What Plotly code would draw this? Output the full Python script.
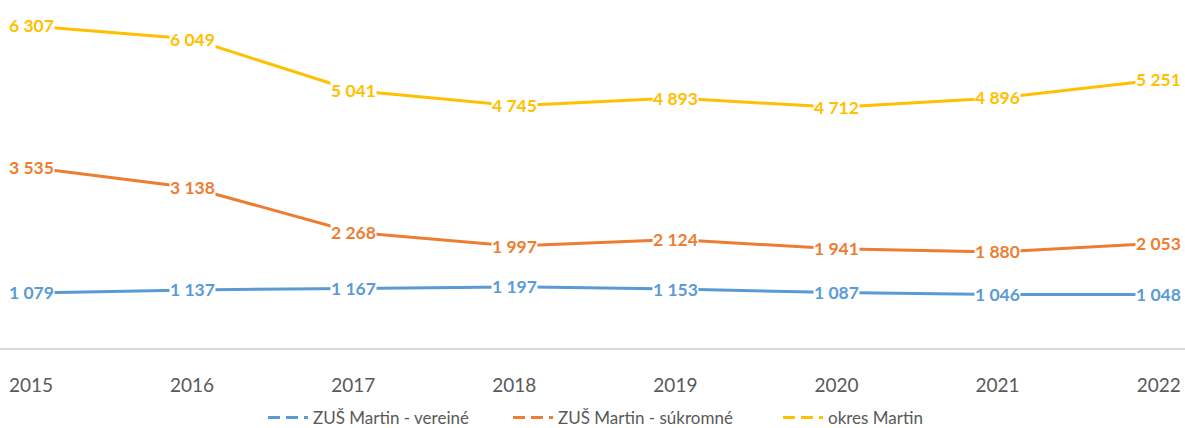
import plotly.graph_objects as go

years = ["2015", "2016", "2017", "2018", "2019", "2020", "2021", "2022"]
verejne = [1079, 1137, 1167, 1197, 1153, 1087, 1046, 1048]
sukromne = [3535, 3138, 2268, 1997, 2124, 1941, 1880, 2053]
okres = [6307, 6049, 5041, 4745, 4893, 4712, 4896, 5251]

names = ["ZUŠ Martin - vereiné", "ZUŠ Martin - súkromné", "okres Martin"]
colors = ["#5B9BD5", "#ED7D31", "#FFC000"]
series = [verejne, sukromne, okres]
legend_ids = ["legend", "legend2", "legend3"]
legend_text_x = [313, 558, 828]

W, H = 1185, 428
plot_bottom = 348  # pixel y of zero line
px_per_unit = (292 - 25) / (6307 - 1079)
ymax = plot_bottom / px_per_unit
spacing = 161.1
x0 = 31
xr = [-x0 / spacing, (W - x0) / spacing]
legend_y = -(418 - plot_bottom) / plot_bottom


def fmt(v):
    return f"{v:,}".replace(",", " ")


fig = go.Figure()
for name, col, vals, lid in zip(names, colors, series, legend_ids):
    fig.add_trace(go.Scatter(x=years, y=vals, mode="lines", line=dict(color=col, width=3),
                             showlegend=False, hoverinfo="skip"))
    fig.add_trace(go.Scatter(x=[None], y=[None], mode="lines", name=name, legend=lid,
                             line=dict(color=col, width=3, dash="12px,6px")))
    for i, yv in enumerate(vals):
        fig.add_annotation(x=i, y=yv, xref="x", yref="y", text=fmt(yv), showarrow=False,
                           bgcolor="white", borderpad=0, xanchor="center", yanchor="middle",
                           font=dict(family="Lato", size=17.5, color=col, weight="bold"))

legend_style = dict(orientation="h", xanchor="left", y=legend_y, yanchor="middle",
                    font=dict(family="Lato", size=17, color="#595959"),
                    itemwidth=40, bgcolor="rgba(0,0,0,0)")

fig.update_layout(
    width=W, height=H,
    margin=dict(l=0, r=0, t=0, b=H - plot_bottom, autoexpand=False),
    paper_bgcolor="white", plot_bgcolor="white",
    xaxis=dict(type="category", range=xr, showgrid=False, zeroline=False, automargin=False,
               showline=True, linecolor="#d9d9d9", linewidth=1.5, ticks="",
               ticklabelstandoff=19,
               tickfont=dict(family="Lato", size=19, color="#595959")),
    yaxis=dict(range=[0, ymax], visible=False, showgrid=False, zeroline=False, automargin=False),
    legend=dict(x=(legend_text_x[0] - 50) / W, **legend_style),
    legend2=dict(x=(legend_text_x[1] - 50) / W, **legend_style),
    legend3=dict(x=(legend_text_x[2] - 50) / W, **legend_style),
    showlegend=True,
)

fig.write_html("out.html", config={"displayModeBar": False})
with open("out.html", encoding="utf-8") as f:
    html = f.read()
html = html.replace("<body>", '<body style="margin:0;padding:0;overflow:hidden">', 1)
with open("out.html", "w", encoding="utf-8") as f:
    f.write(html)
